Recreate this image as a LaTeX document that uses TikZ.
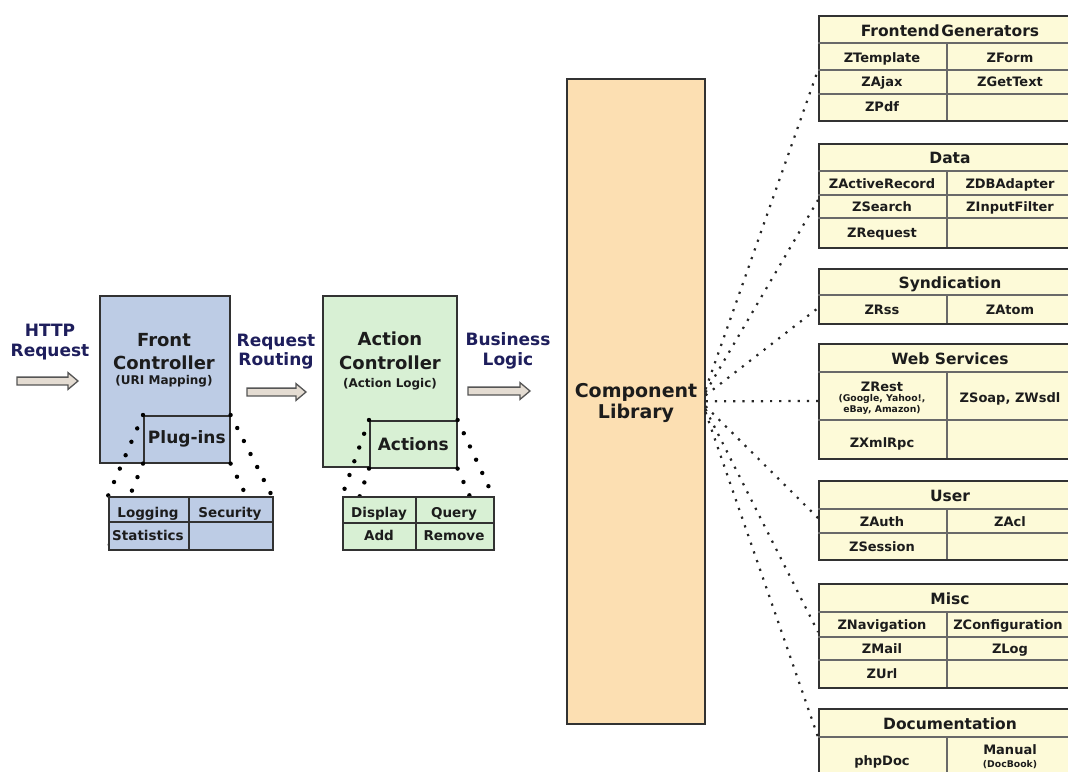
\documentclass[tikz,border=0pt]{standalone}
\usepackage{fontspec}
\setmainfont{DejaVu Sans}
\newcommand\myfs[1]{\fontsize{#1}{#1}\selectfont}
\definecolor{bluef}{RGB}{189,204,229}
\definecolor{greenf}{RGB}{216,240,212}
\definecolor{peachf}{RGB}{252,223,178}
\definecolor{yellowf}{RGB}{253,250,216}
\definecolor{arrowf}{RGB}{228,220,210}
\definecolor{arrowd}{RGB}{85,85,85}
\definecolor{navy}{RGB}{30,30,92}
\definecolor{txt}{RGB}{28,28,28}
\definecolor{bord}{RGB}{50,50,50}
\definecolor{pgrey}{RGB}{105,105,105}
\newcommand\blockarrow[3]{%
  \draw[blockarr] (#1,#3-3.9) -- (#2-10,#3-3.9) -- (#2-10,#3-8.4) -- (#2,#3)
    -- (#2-10,#3+8.4) -- (#2-10,#3+3.9) -- (#1,#3+3.9) -- cycle;}
\begin{document}
\begin{tikzpicture}[x=1pt,y=-1pt,
  box/.style={draw=bord, line width=1.6pt, inner sep=0pt, anchor=north west},
  panelbox/.style={draw=bord, line width=2pt, fill=yellowf, inner sep=0pt, anchor=north west, minimum width=266pt},
  pline/.style={draw=pgrey, line width=1.8pt},
  gline/.style={draw=bord, line width=1.4pt},
  big/.style={text=txt, font=\bfseries\myfs{18}, anchor=base, inner sep=0pt},
  sub/.style={text=txt, font=\bfseries\myfs{12}, anchor=base, inner sep=0pt},
  lbl/.style={text=navy, font=\bfseries\myfs{17}, anchor=base, inner sep=0pt},
  subhead/.style={text=txt, font=\bfseries\myfs{17}, inner sep=0pt},
  cell/.style={text=txt, font=\bfseries\myfs{13.5}, anchor=base, inner sep=0pt},
  phead/.style={text=txt, font=\bfseries\myfs{15.5}, anchor=base, inner sep=0pt},
  pcell/.style={text=txt, font=\bfseries\myfs{13}, anchor=base, inner sep=0pt},
  ptiny/.style={text=txt, font=\bfseries\myfs{9.3}, anchor=base, inner sep=0pt},
  bigdots/.style={draw=black, line width=4.4pt, line cap=round, dash pattern=on 0pt off 14.6pt},
  fan/.style={draw=black!85, line width=2.2pt, dash pattern=on 2.2pt off 7pt},
  blockarr/.style={draw=arrowd, line width=1.3pt, fill=arrowf, line join=miter}]
\useasboundingbox (0,0) rectangle (1068,771);
\clip (0,0) rectangle (1068,771);
\fill[white] (0,0) rectangle (1068,771);

% ---------- labels and block arrows ----------
\node[lbl] (l1a) at (50,336) {HTTP};
\node[lbl] (l1b) at (50,356) {Request};
\blockarrow{17}{78}{381}
\node[lbl] (l2a) at (276,346) {Request};
\node[lbl] (l2b) at (276,365) {Routing};
\blockarrow{247}{306}{392}
\node[lbl] (l3a) at (508,345) {Business};
\node[lbl] (l3b) at (508,365) {Logic};
\blockarrow{468}{530}{391}

% ---------- Front controller ----------
\node[box, fill=bluef, minimum width=130pt, minimum height=167pt] (fc) at (99,295) {};
\node[big] (fct1) at (164,346) {Front};
\node[big] (fct2) at (164,369) {Controller};
\node[sub] (fct3) at (164,384) {(URI Mapping)};
\node[box, fill=bluef, minimum width=86pt, minimum height=47pt] (pl) at (143,415) {};
\node[subhead] (plt) at (pl.center) {Plug-ins};
\coordinate (ftnw) at (108,496);
\coordinate (ftne) at (272,496);
\coordinate (ftsw) at (108,549);
\coordinate (ftse) at (272,549);
\draw[bigdots] (pl.north west) -- (ftnw);
\draw[bigdots] (pl.south west) -- (ftsw);
\draw[bigdots] (pl.north east) -- (ftne);
\draw[bigdots] (pl.south east) -- (ftse);
\node[box, fill=bluef, minimum width=164pt, minimum height=53pt] (ft) at (ftnw) {};
\draw[gline] (189,496) -- (189,549);
\draw[gline] (108,522) -- (272,522);
\node[cell] (ft1) at (148,517) {Logging};
\node[cell] (ft2) at (230,517) {Security};
\node[cell] (ft3) at (148,540) {Statistics};

% ---------- Action controller ----------
\node[box, fill=greenf, minimum width=134pt, minimum height=171pt] (ac) at (322,295) {};
\node[big] (act1) at (390,345) {Action};
\node[big] (act2) at (390,369) {Controller};
\node[sub] (act3) at (390,387) {(Action Logic)};
\node[box, fill=greenf, minimum width=87pt, minimum height=47pt] (aa) at (369,420) {};
\node[subhead] (aat) at (aa.center) {Actions};
\coordinate (atnw) at (342,496);
\coordinate (atne) at (493,496);
\coordinate (atsw) at (342,549);
\coordinate (atse) at (493,549);
\draw[bigdots] (aa.north west) -- (atnw);
\draw[bigdots] (aa.south west) -- (atsw);
\draw[bigdots] (aa.north east) -- (atne);
\draw[bigdots] (aa.south east) -- (atse);
\node[box, fill=greenf, minimum width=151pt, minimum height=53pt] (at) at (atnw) {};
\draw[gline] (416,496) -- (416,549);
\draw[gline] (342,523) -- (493,523);
\node[cell] (at1) at (379,517) {Display};
\node[cell] (at2) at (454,517) {Query};
\node[cell] (at3) at (379,540) {Add};
\node[cell] (at4) at (454,540) {Remove};

% ---------- Component library ----------
\node[box, fill=peachf, minimum width=138pt, minimum height=645pt] (cl) at (566,78) {};
\node[big, font=\bfseries\myfs{19}] (clt1) at (636,397) {Component};
\node[big, font=\bfseries\myfs{19}] (clt2) at (636,418) {Library};

% ---------- panels ----------
% P1 Frontend Generators
\node[panelbox, minimum height=105pt] (p1) at (818,15) {};
\draw[pline] (818,43) -- (1084,43);
\draw[pline] (818,70) -- (1084,70);
\draw[pline] (818,94) -- (1084,94);
\draw[pline] (947,43) -- (947,120);
\node[phead] (p1h) at (950,36) {Frontend\hspace{0.1em}Generators};
\node[pcell] at (882,62) {ZTemplate};
\node[pcell] at (1010,62) {ZForm};
\node[pcell] at (882,86.5) {ZAjax};
\node[pcell] at (1010,86.5) {ZGetText};
\node[pcell] at (882,111.5) {ZPdf};
\coordinate (p1in) at (818,70);
% P2 Data
\node[panelbox, minimum height=104pt] (p2) at (818,143) {};
\draw[pline] (818,171) -- (1084,171);
\draw[pline] (818,195) -- (1084,195);
\draw[pline] (818,218) -- (1084,218);
\draw[pline] (947,171) -- (947,247);
\node[phead] (p2h) at (950,163) {Data};
\node[pcell] at (882,188) {ZActiveRecord};
\node[pcell] at (1010,188) {ZDBAdapter};
\node[pcell] at (882,211.5) {ZSearch};
\node[pcell] at (1010,211.5) {ZInputFilter};
\node[pcell] at (882,237) {ZRequest};
\coordinate (p2in) at (818,200);
% P3 Syndication
\node[panelbox, minimum height=55pt] (p3) at (818,268) {};
\draw[pline] (818,295) -- (1084,295);
\draw[pline] (947,295) -- (947,323);
\node[phead] (p3h) at (950,288) {Syndication};
\node[pcell] at (882,314) {ZRss};
\node[pcell] at (1010,314) {ZAtom};
\coordinate (p3in) at (818,308);
% P4 Web Services
\node[panelbox, minimum height=115pt] (p4) at (818,343) {};
\draw[pline] (818,372) -- (1084,372);
\draw[pline] (818,420) -- (1084,420);
\draw[pline] (947,372) -- (947,458);
\node[phead] (p4h) at (950,364) {Web Services};
\node[pcell] at (882,391) {ZRest};
\node[ptiny] at (882,401.5) {(Google, Yahoo!,};
\node[ptiny] at (882,412) {eBay, Amazon)};
\node[pcell] at (1010,402) {ZSoap, ZWsdl};
\node[pcell] at (882,447) {ZXmlRpc};
\coordinate (p4in) at (818,401);
% P5 User
\node[panelbox, minimum height=79pt] (p5) at (818,480) {};
\draw[pline] (818,509) -- (1084,509);
\draw[pline] (818,533) -- (1084,533);
\draw[pline] (947,509) -- (947,559);
\node[phead] (p5h) at (950,501) {User};
\node[pcell] at (882,526) {ZAuth};
\node[pcell] at (1010,526) {ZAcl};
\node[pcell] at (882,551) {ZSession};
\coordinate (p5in) at (818,518);
% P6 Misc
\node[panelbox, minimum height=104pt] (p6) at (818,583) {};
\draw[pline] (818,612) -- (1084,612);
\draw[pline] (818,637) -- (1084,637);
\draw[pline] (818,660) -- (1084,660);
\draw[pline] (947,612) -- (947,687);
\node[phead] (p6h) at (950,604) {Misc};
\node[pcell] at (882,629.5) {ZNavigation};
\node[pcell] at (1008,629.5) {ZConfiguration};
\node[pcell] at (882,653.5) {ZMail};
\node[pcell] at (1010,653.5) {ZLog};
\node[pcell] at (882,678.5) {ZUrl};
\coordinate (p6in) at (818,632);
% P7 Documentation
\node[panelbox, minimum height=90pt] (p7) at (818,708) {};
\draw[pline] (818,737) -- (1084,737);
\draw[pline] (947,737) -- (947,800);
\node[phead] (p7h) at (950,729) {Documentation};
\node[pcell] at (882,765) {phpDoc};
\node[pcell] at (1010,754) {Manual};
\node[ptiny] at (1010,767) {(DocBook)};
\coordinate (p7in) at (818,737);

% ---------- fan connectors ----------
\draw[fan] ([yshift=12pt]cl.east) -- (p1in);
\draw[fan] ([yshift=9pt]cl.east) -- (p2in);
\draw[fan] ([yshift=6pt]cl.east) -- (p3in);
\draw[fan] (cl.east) -- (p4in);
\draw[fan] ([yshift=-5pt]cl.east) -- (p5in);
\draw[fan] ([yshift=-8pt]cl.east) -- (p6in);
\draw[fan] ([yshift=-11pt]cl.east) -- (p7in);
\end{tikzpicture}
\end{document}
